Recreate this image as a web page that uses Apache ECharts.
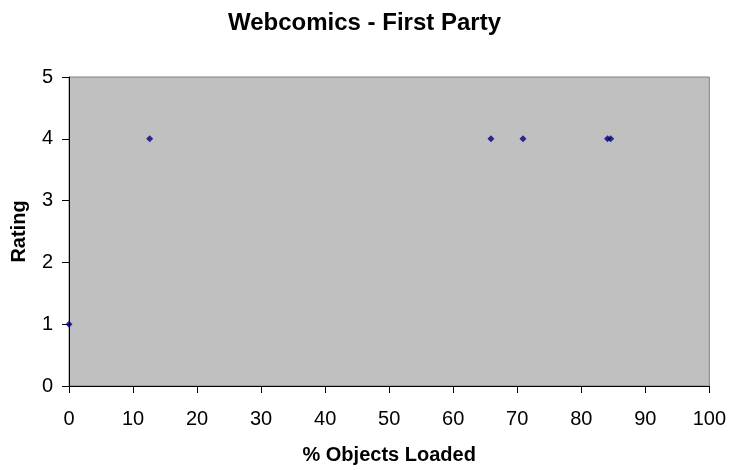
<!DOCTYPE html>
<html>
<head>
<meta charset="utf-8">
<script src="https://cdn.jsdelivr.net/npm/echarts@6/dist/echarts.min.js"></script>
<style>
  html, body { margin: 0; padding: 0; background: #ffffff; }
  #chart { width: 729px; height: 470px; }
</style>
</head>
<body>
<div id="chart"></div>
<script>
// Webcomics, first-party objects: share of objects loaded vs. rating
const pctLoaded = [0, 12.6, 65.9, 70.9, 84.1, 84.6];
const ratings = [1, 4, 4, 4, 4, 4];
const xTicks = [0, 10, 20, 30, 40, 50, 60, 70, 80, 90, 100];
const yTicks = [0, 1, 2, 3, 4, 5];

const points = pctLoaded.map((x, i) => [x, ratings[i]]);
const font = '"Liberation Sans", Arial, sans-serif';

const chart = echarts.init(document.getElementById('chart'), null, { renderer: 'canvas' });
chart.setOption({
  animation: false,
  backgroundColor: '#ffffff',
  title: {
    text: 'Webcomics - First Party',
    left: 'center',
    top: 6,
    textStyle: { fontFamily: font, fontSize: 24, fontWeight: 'bold', color: '#000000' }
  },
  grid: {
    left: 69, right: 19, top: 77, bottom: 83,
    show: true,
    backgroundColor: '#c0c0c0',
    borderColor: '#808080',
    borderWidth: 1
  },
  xAxis: {
    type: 'value',
    min: xTicks[0],
    max: xTicks[xTicks.length - 1],
    interval: 10,
    name: '% Objects Loaded',
    nameLocation: 'middle',
    nameGap: 59,
    nameTextStyle: { fontFamily: font, fontSize: 20, fontWeight: 'bold', color: '#000000' },
    axisLine: { show: true, lineStyle: { color: '#000000', width: 1 } },
    axisTick: { show: true, inside: false, length: 7, lineStyle: { color: '#000000' } },
    axisLabel: { fontFamily: font, fontSize: 20, color: '#000000', margin: 23 },
    splitLine: { show: false }
  },
  yAxis: {
    type: 'value',
    min: yTicks[0],
    max: yTicks[yTicks.length - 1],
    interval: 1,
    name: 'Rating',
    nameLocation: 'middle',
    nameGap: 40,
    nameTextStyle: { fontFamily: font, fontSize: 20, fontWeight: 'bold', color: '#000000' },
    axisLine: { show: true, lineStyle: { color: '#000000', width: 1 } },
    axisTick: { show: true, inside: false, length: 7, lineStyle: { color: '#000000' } },
    axisLabel: { fontFamily: font, fontSize: 20, color: '#000000', margin: 16 },
    splitLine: { show: false }
  },
  series: [{
    type: 'scatter',
    data: points,
    symbol: 'diamond',
    symbolSize: 7,
    itemStyle: { color: '#000080' },
    clip: false
  }]
});
</script>
</body>
</html>
